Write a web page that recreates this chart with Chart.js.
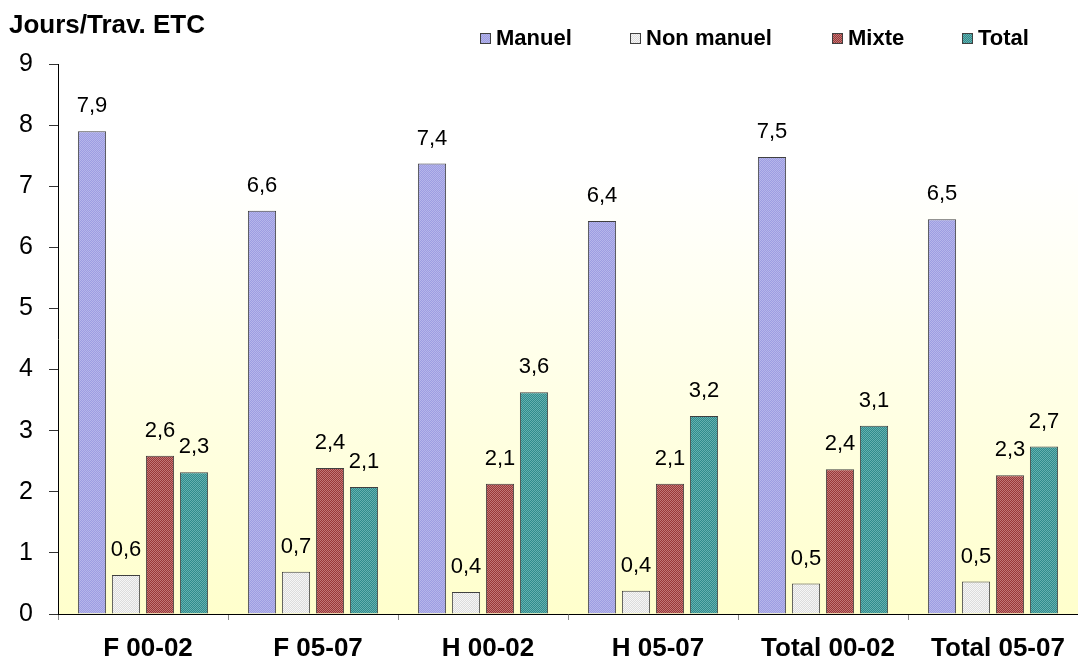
<!DOCTYPE html>
<html>
<head>
<meta charset="utf-8">
<script src="https://cdn.jsdelivr.net/npm/chart.js@4/dist/chart.umd.min.js"></script>
<style>
  html, body { margin: 0; padding: 0; background: #ffffff; }
  #wrap { width: 1078px; height: 669px; position: relative; }
</style>
</head>
<body>
<div id="wrap"><canvas id="c" width="1078" height="669"></canvas></div>
<script>
// ---- data ----
const categories = ['F 00-02', 'F 05-07', 'H 00-02', 'H 05-07', 'Total 00-02', 'Total 05-07'];
const seriesNames = ['Manuel', 'Non manuel', 'Mixte', 'Total'];
const manuel    = [7.90, 6.60, 7.37, 6.43, 7.48, 6.46];
const nonManuel = [0.64, 0.69, 0.36, 0.38, 0.50, 0.53];
const mixte     = [2.59, 2.39, 2.13, 2.13, 2.37, 2.27];
const total     = [2.32, 2.08, 3.63, 3.24, 3.08, 2.74];
const yTickValues = [0, 1, 2, 3, 4, 5, 6, 7, 8, 9];
const axisTitle = 'Jours/Trav. ETC';

// ---- patterns ----
function checker(c1, c2) {
  const p = document.createElement('canvas');
  p.width = 2; p.height = 2;
  const g = p.getContext('2d');
  g.fillStyle = c1; g.fillRect(0, 0, 2, 2);
  g.fillStyle = c2; g.fillRect(0, 0, 1, 1); g.fillRect(1, 1, 1, 1);
  return g.createPattern(p, 'repeat');
}
const ctx = document.getElementById('c').getContext('2d');
const fills = [
  checker('#9d9de2', '#b6b6ea'),
  checker('#dcdcdc', '#f6f6f6'),
  checker('#993838', '#c27878'),
  checker('#2f8c8c', '#66b0b0')
];
const seriesValues = [manuel, nonManuel, mixte, total];

const bgPlugin = {
  id: 'bg',
  beforeDraw(chart) {
    const a = chart.chartArea, c = chart.ctx;
    const gr = c.createLinearGradient(0, a.top, 0, a.bottom);
    gr.addColorStop(0, '#ffffff');
    gr.addColorStop(0.2, '#ffffff');
    gr.addColorStop(1, '#ffffcc');
    c.save();
    c.fillStyle = gr;
    c.fillRect(a.left, a.top, a.right - a.left, a.bottom - a.top);
    c.restore();
  }
};

const labelPlugin = {
  id: 'vlabels',
  afterDatasetsDraw(chart) {
    const c = chart.ctx;
    c.save();
    c.font = '22px "Liberation Sans", Arial, sans-serif';
    c.fillStyle = '#000';
    c.textAlign = 'center';
    c.textBaseline = 'middle';
    chart.data.datasets.forEach((ds, i) => {
      chart.getDatasetMeta(i).data.forEach((bar, j) => {
        const t = ds.data[j].toFixed(1).replace('.', ',');
        c.fillText(t, bar.x, bar.y - 25);
      });
    });
    c.restore();
  }
};

const legendX = [480, 630, 832, 962];
const headPlugin = {
  id: 'head',
  afterDraw(chart) {
    const c = chart.ctx;
    c.save();
    c.fillStyle = '#000';
    c.textBaseline = 'middle';
    c.textAlign = 'left';
    c.font = 'bold 26px "Liberation Sans", Arial, sans-serif';
    c.fillText(axisTitle, 9, 26);
    c.font = 'bold 22px "Liberation Sans", Arial, sans-serif';
    chart.data.datasets.forEach((ds, i) => {
      const x = legendX[i];
      c.fillStyle = ds.backgroundColor;
      c.fillRect(x, 33, 11, 11);
      c.strokeStyle = '#404040';
      c.lineWidth = 1;
      c.strokeRect(x + 0.5, 33.5, 10, 10);
      c.fillStyle = '#000';
      c.fillText(ds.label, x + 16, 39);
    });
    c.restore();
  }
};

new Chart(ctx, {
  type: 'bar',
  data: {
    labels: categories,
    datasets: seriesNames.map((n, i) => ({
      label: n,
      data: seriesValues[i],
      backgroundColor: fills[i],
      borderColor: '#404040',
      borderWidth: 1,
      borderSkipped: 'bottom',
      categoryPercentage: 0.8,
      barPercentage: 0.83
    }))
  },
  options: {
    responsive: false,
    animation: false,
    events: [],
    layout: { padding: { top: 64, right: 0, left: 0, bottom: 0 } },
    plugins: { legend: { display: false }, title: { display: false }, tooltip: { enabled: false } },
    scales: {
      x: {
        afterFit(s) { s.height = 55; },
        grid: { drawOnChartArea: false, offset: true, tickLength: 6, color: '#888' },
        border: { color: '#000', width: 1 },
        ticks: { color: '#000', font: { family: '"Liberation Sans", Arial, sans-serif', size: 26, weight: 'bold' }, padding: 13, labelOffset: 5, maxRotation: 0, autoSkip: false }
      },
      y: {
        min: 0, max: 9,
        afterFit(s) { s.width = 58; },
        afterBuildTicks(s) { s.ticks = yTickValues.map(v => ({ value: v })); },
        grid: { drawOnChartArea: false, tickLength: 9, color: '#333' },
        border: { color: '#000', width: 1 },
        ticks: { color: '#000', font: { family: '"Liberation Sans", Arial, sans-serif', size: 25 }, padding: 16 }
      }
    }
  },
  plugins: [bgPlugin, labelPlugin, headPlugin]
});
</script>
</body>
</html>
